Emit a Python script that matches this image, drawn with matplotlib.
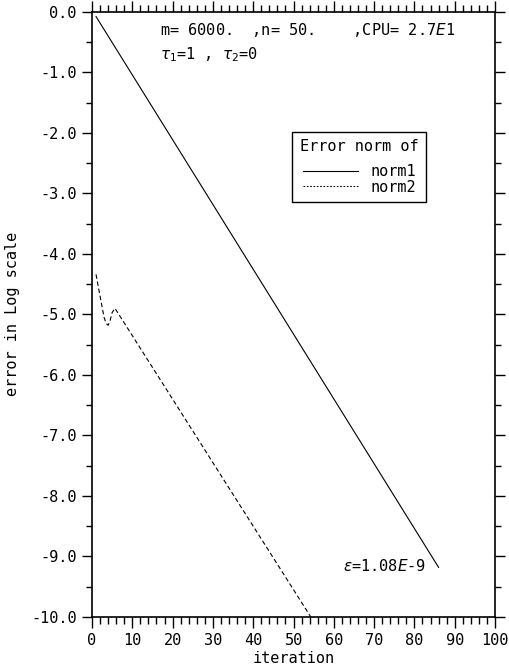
import matplotlib.pyplot as plt
import numpy as np
from matplotlib.ticker import MultipleLocator

plt.rcParams['font.family'] = ['DejaVu Sans Mono', 'DejaVu Sans']
plt.rcParams['font.size'] = 11
plt.rcParams['mathtext.fontset'] = 'dejavusans'

# Data (log10 of the error)
iter1 = [1, 86]
norm1 = [-0.08, -9.18]

iter2 = [1, 2, 3, 3.5, 4, 4.5, 5, 5.7, 54.3]
norm2 = [-4.34, -4.7, -5.05, -5.15, -5.18, -5.1, -4.97, -4.9, -10.0]

fig = plt.figure(figsize=(5.1, 6.7), dpi=100)
ax = fig.add_axes([0.1804, 0.0791, 0.7902, 0.9034])

ax.plot(iter1, norm1, color='black', lw=0.8, label='norm1')
ax.plot(iter2, norm2, color='black', lw=0.8, dashes=(4, 2.5), label='norm2')

ax.set_xlim(0, 100)
ax.set_ylim(-10, 0)
ax.xaxis.set_major_locator(MultipleLocator(10))
ax.xaxis.set_minor_locator(MultipleLocator(2))
ax.yaxis.set_major_locator(MultipleLocator(1))
ax.yaxis.set_minor_locator(MultipleLocator(0.5))
ax.yaxis.set_major_formatter(lambda v, p: f"{v:.1f}".replace('\u2212', '-'))

ax.tick_params(which='both', direction='out', top=True, right=True,
               width=1.0, color='black', labelsize=11)
ax.tick_params(axis='x', which='major', length=8)
ax.tick_params(axis='x', which='minor', length=5)
ax.tick_params(axis='y', which='major', length=7, pad=4)
ax.tick_params(axis='y', which='minor', length=4)
for s in ax.spines.values():
    s.set_linewidth(1.2)

ax.set_xlabel('iteration', labelpad=2)
ax.set_ylabel('error in Log scale', labelpad=8)

ax.text(0.168, 0.985, r"m= 6000.  ,n= 50.    ,CPU= 2.7$\it{E}$1",
        transform=ax.transAxes, va='top', ha='left', fontsize=11)
ax.text(0.168, 0.945, r"$\tau_1$=1 , $\tau_2$=0",
        transform=ax.transAxes, va='top', ha='left', fontsize=11)
ax.text(0.83, 0.085, r"$\epsilon$=1.08$\it{E}$-9",
        transform=ax.transAxes, va='center', ha='right', fontsize=11)

leg = ax.legend(title='Error norm of', loc='upper left',
                bbox_to_anchor=(0.497, 0.802), frameon=True, fancybox=False,
                framealpha=1, edgecolor='black', handlelength=3.6,
                borderpad=0.5, labelspacing=0.05, handletextpad=0.8,
                borderaxespad=0, fontsize=11, title_fontsize=11)
leg.get_frame().set_linewidth(1.0)
leg.get_lines()[1].set_dashes((1.5, 1.5))
leg._legend_box.sep = 7

fig.savefig('out.png', dpi=100)
